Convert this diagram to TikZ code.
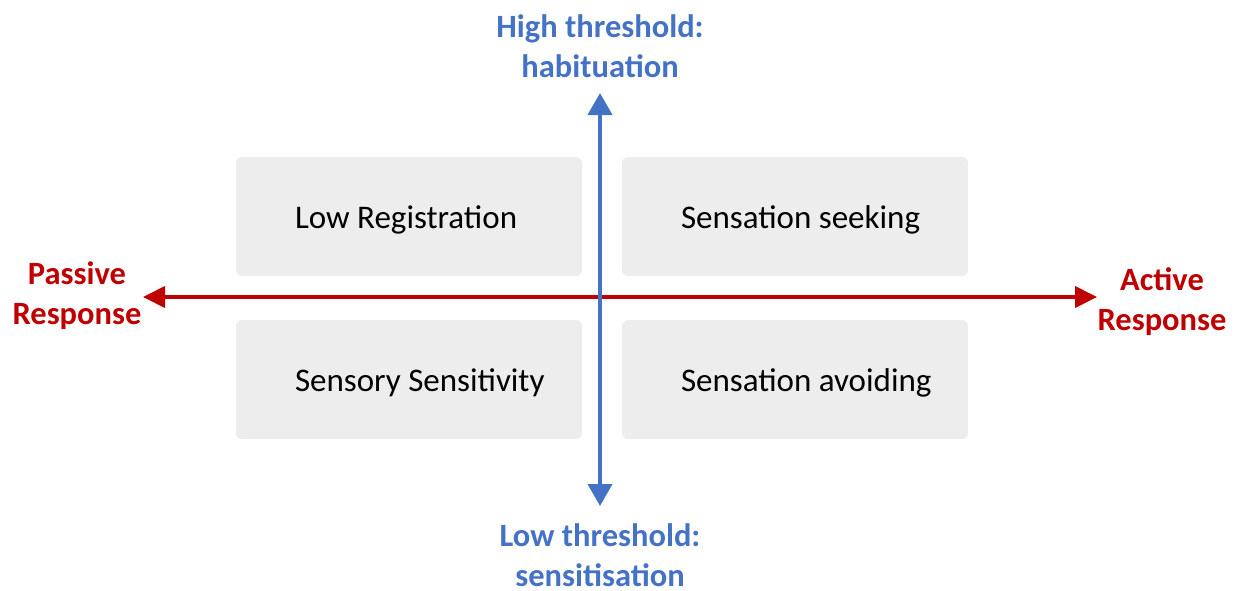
\documentclass[tikz,border=0pt]{standalone}
\usepackage{fontspec}
\setmainfont{Carlito}
\usetikzlibrary{arrows.meta}
\definecolor{axblue}{HTML}{4472C4}
\definecolor{axred}{HTML}{C00000}
\definecolor{boxgray}{HTML}{EDEDED}
\tikzset{
  quad/.style={fill=boxgray, draw=none, rounded corners=6pt, inner sep=0pt, minimum width=346pt, minimum height=119pt},
  quadtext/.style={anchor=west, inner sep=0pt, xshift=59pt, yshift=-3pt, font=\fontsize{33}{40}\selectfont},
  axlabel/.style={font=\fontsize{32.5}{40}\selectfont\bfseries, align=center, inner sep=0pt},
  redax/.style={draw=axred, line width=4pt, {Triangle[width=21pt,length=22pt]}-{Triangle[width=21pt,length=22pt]}},
  blueax/.style={draw=axblue, line width=4pt, {Triangle[width=24pt,length=22pt]}-{Triangle[width=24pt,length=22pt]}}
}
\begin{document}
\begin{tikzpicture}[x=1pt,y=-1pt]
\useasboundingbox (0,0) rectangle (1236,590);
\node[quad] (lr) at (409,216.5) {};
\node[quad] (ss) at (795,216.5) {};
\node[quad] (sy) at (409,379.5) {};
\node[quad] (sa) at (795,379.5) {};
\node[quadtext] (lrt) at (lr.west) {Low Registration};
\node[quadtext] (sst) at (ss.west) {Sensation seeking};
\node[quadtext] (syt) at (sy.west) {Sensory Sensitivity};
\node[quadtext] (sat) at (sa.west) {Sensation avoiding};
\coordinate (left) at (143,297);
\coordinate (right) at (1097,297);
\coordinate (top) at (600,93);
\coordinate (bottom) at (600,506);
\draw[redax] (left) -- (right);
\draw[blueax] (bottom) -- (top);
\node[axlabel, text=axblue] (hi) at (600,46) {High threshold:\\habituation};
\node[axlabel, text=axblue] (lo) at (600,555) {Low threshold:\\sensitisation};
\node[axlabel, text=axred] (pas) at (77,296) {Passive\\Response};
\node[axlabel, text=axred] (act) at (1162,302) {Active\\Response};
\end{tikzpicture}
\end{document}
